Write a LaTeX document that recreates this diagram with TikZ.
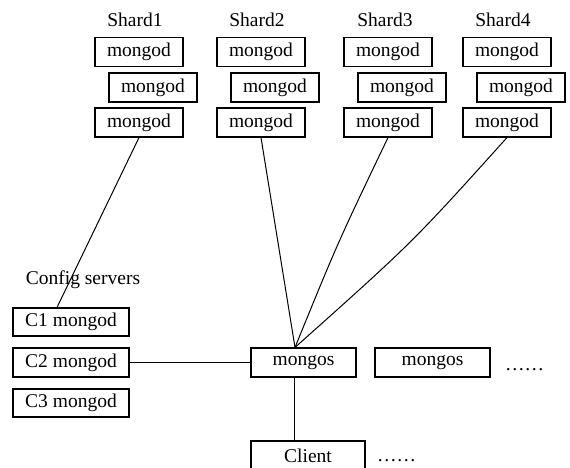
\documentclass[tikz,border=0pt]{standalone}
\usepackage{fontspec}
\setmainfont{Liberation Serif}
\begin{document}
\begin{tikzpicture}[x=1pt,y=-1pt,
  box/.style={draw,line width=1.1pt,inner sep=0pt,minimum height=29pt,font=\fontsize{19.5}{22}\selectfont},
  sbox/.style={box,minimum width=88pt},
  lbl/.style={inner sep=0pt,font=\fontsize{19.5}{22}\selectfont},
  conn/.style={line width=1pt}]
\useasboundingbox (0,0) rectangle (570,468);
% shard labels
\node[lbl] (l1) at (135,20) {Shard1};
\node[lbl] (l2) at (257,20) {Shard2};
\node[lbl] (l3) at (385,20) {Shard3};
\node[lbl] (l4) at (503,20) {Shard4};
% shard boxes
\foreach \i/\x in {1/139,2/261,3/388,4/507}{
  \node[sbox] (s\i a) at (\x,52) {mongod};
  \node[sbox] (s\i b) at (\x+14,87.5) {mongod};
  \node[sbox] (s\i c) at (\x,122.5) {mongod};
}
% config servers
\node[lbl] (cfg) at (83,280) {Config servers};
\node[box,minimum width=116pt,minimum height=28pt] (c1) at (71,322) {C1 mongod};
\node[box,minimum width=116pt] (c2) at (71,362.5) {C2 mongod};
\node[box,minimum width=116pt,minimum height=28pt] (c3) at (71,403) {C3 mongod};
% mongos
\node[box,minimum width=105pt] (m1) at (303.5,362.5) {mongos};
\node[box,minimum width=115pt] (m2) at (432.5,362.5) {mongos};
\node[lbl,anchor=base west] (d1) at (505,370) {……};
% client
\node[box,minimum width=114pt] (cl) at (308,455.5) {Client};
\node[lbl,anchor=base west] (d2) at (377,461) {……};
% connectors
\coordinate (mtop) at ([xshift=-8.5pt]m1.north);
\coordinate (mbot) at ([xshift=-9.5pt]m1.south);
\draw[conn] (s1c.south) -- ([xshift=-14pt]c1.north);
\draw[conn] (s2c.south) -- (mtop);
\draw[conn] (s3c.south) .. controls (338,242) .. (mtop);
\draw[conn] (s4c.south) .. controls (413,242) .. (mtop);
\draw[conn] (c2.east) -- (m1.west);
\draw[conn] (mbot) -- (mbot |- cl.north);
\end{tikzpicture}
\end{document}
